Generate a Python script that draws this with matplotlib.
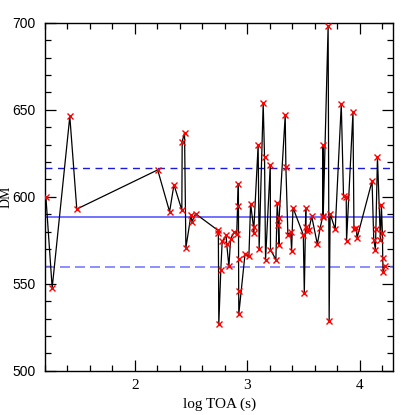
import matplotlib
matplotlib.use("Agg")
import matplotlib.pyplot as plt
from matplotlib.ticker import MultipleLocator

# DM vs log TOA values
log_toa = [
    1.208, 1.264, 1.421, 1.483, 2.203, 2.309, 2.348, 2.418, 2.421, 2.442,
    2.454, 2.499, 2.508, 2.540, 2.741, 2.743, 2.747, 2.765, 2.777, 2.813,
    2.817, 2.837, 2.852, 2.884, 2.906, 2.921, 2.922, 2.923, 2.924, 2.925,
    2.980, 3.015, 3.030, 3.056, 3.057, 3.097, 3.106, 3.142, 3.154, 3.163,
    3.205, 3.207, 3.255, 3.267, 3.276, 3.282, 3.284, 3.338, 3.344, 3.362,
    3.387, 3.395, 3.407, 3.499, 3.508, 3.521, 3.522, 3.536, 3.548, 3.574,
    3.624, 3.649, 3.672, 3.674, 3.676, 3.720, 3.729, 3.738, 3.783, 3.837,
    3.857, 3.881, 3.884, 3.941, 3.950, 3.971, 3.977, 4.111, 4.126, 4.141,
    4.145, 4.159, 4.185, 4.194, 4.203, 4.206, 4.209, 4.224,
]
dm = [
    600.0, 547.6, 646.1, 592.9, 615.4, 591.4, 606.9, 592.3, 631.7, 636.7,
    570.6, 589.3, 585.6, 590.2, 580.6, 579.1, 526.9, 558.0, 574.3, 577.8,
    573.0, 559.9, 575.8, 579.6, 578.3, 607.5, 594.4, 564.3, 546.1, 532.6,
    566.8, 566.0, 596.0, 582.5, 579.1, 629.6, 570.1, 653.6, 622.8, 563.7,
    618.1, 569.5, 563.9, 596.6, 583.9, 572.0, 587.9, 646.8, 617.1, 578.1,
    579.6, 568.9, 593.7, 578.1, 544.5, 593.5, 582.5, 580.2, 581.0, 588.7,
    572.7, 582.0, 588.7, 629.6, 588.3, 698.3, 528.8, 590.2, 581.2, 653.2,
    600.2, 599.8, 574.5, 648.4, 581.4, 582.2, 576.2, 609.0, 575.4, 569.5,
    581.2, 622.8, 575.3, 595.4, 579.1, 564.7, 556.6, 560.3,
]

# reference levels
upper_level = 616.7
mean_level = 588.1
lower_level = 559.5

fig = plt.figure(figsize=(4.15, 4.15), dpi=100)
ax = fig.add_axes([0.1084, 0.1067, 0.8393, 0.8386])

ax.axhline(upper_level, color="#1a1ad8", lw=1.0, ls=(0, (5, 4)))
ax.axhline(mean_level, color="#5a5aff", lw=1.2)
ax.axhline(lower_level, color="#7a7aff", lw=1.2, ls=(0, (6, 3)))

ax.plot(log_toa, dm, color="black", lw=0.9, zorder=3)
ax.plot(log_toa, dm, ls="none", marker="x", ms=3.8, mew=1.0,
        color="red", zorder=4)

ax.set_xlim(1.20, 4.30)
ax.set_ylim(500, 700)

ax.xaxis.set_major_locator(MultipleLocator(1))
ax.xaxis.set_minor_locator(MultipleLocator(0.2))
ax.yaxis.set_major_locator(MultipleLocator(50))
ax.yaxis.set_minor_locator(MultipleLocator(10))
ax.tick_params(which="both", direction="in", top=True, right=True, width=0.9)
ax.tick_params(which="major", length=8)
ax.tick_params(which="minor", length=4)
ax.tick_params(axis="y", pad=7)
ax.tick_params(axis="x", pad=6)

for lab in ax.get_yticklabels():
    lab.set_fontfamily("Liberation Sans")
    lab.set_fontsize(10)
for lab in ax.get_xticklabels():
    lab.set_fontfamily("Liberation Serif")
    lab.set_fontsize(11)

for sp in ax.spines.values():
    sp.set_linewidth(1.0)

ax.set_xlabel("log TOA (s)", family="Liberation Serif", fontsize=11, labelpad=4)
ax.set_ylabel("DM", family="Liberation Serif", fontsize=10)
ax.yaxis.set_label_coords(-0.093, 0.5)

fig.savefig("out.png", dpi=100)
